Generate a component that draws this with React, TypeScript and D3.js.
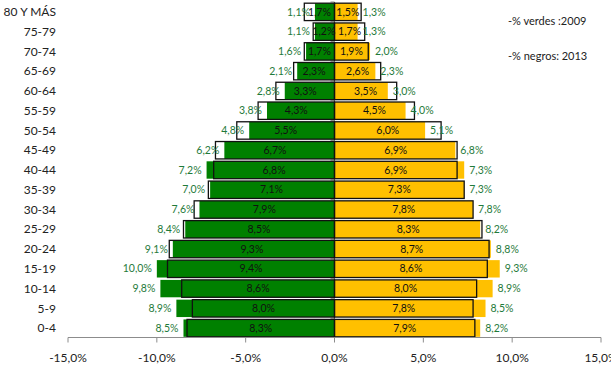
import React from 'react';
import * as d3 from 'd3';

// Age groups, bottom (youngest) to top (oldest)
const ageGroups = ['0-4', '5-9', '10-14', '15-19', '20-24', '25-29', '30-34', '35-39', '40-44', '45-49', '50-54', '55-59', '60-64', '65-69', '70-74', '75-79', '80 Y MÁS'];

// Left side (green) shares, %
const left2009 = [8.5, 8.9, 9.8, 10.0, 9.1, 8.4, 7.6, 7.0, 7.2, 6.2, 4.8, 3.8, 2.8, 2.1, 1.6, 1.1, 1.1];
const left2013 = [8.3, 8.0, 8.6, 9.4, 9.3, 8.5, 7.9, 7.1, 6.8, 6.7, 5.5, 4.3, 3.3, 2.3, 1.7, 1.2, 1.7];

// Right side (yellow) shares, %
const right2009 = [8.2, 8.5, 8.9, 9.3, 8.8, 8.2, 7.8, 7.3, 7.3, 6.8, 5.1, 4.0, 3.0, 2.3, 2.0, 1.3, 1.3];
const right2013 = [7.9, 7.8, 8.0, 8.6, 8.7, 8.3, 7.8, 7.3, 6.9, 6.9, 6.0, 4.5, 3.5, 2.6, 1.9, 1.7, 1.5];

const xTicks = [-15, -10, -5, 0, 5, 10, 15];
const legendLines = ['-% verdes :2009', '-% negros: 2013'];

const W = 611;
const H = 365;
const GREEN = '#008000';
const YELLOW = '#FFC000';
const LABEL_GREEN = '#1f7a3a';
const AXIS = '#8c8c8c';
const FONT = 'Lato, "Open Sans", sans-serif';

const fmt = (v: number) => d3.format('.1f')(Math.abs(v)).replace('.', ',') + '%';

export default function App() {
  const x = d3.scaleLinear().domain([-15, 15]).range([68, 601]);
  const y = d3
    .scaleBand<string>()
    .domain([...ageGroups].reverse())
    .range([2, 338])
    .paddingInner(0.12)
    .paddingOuter(0.06);
  const bw = y.bandwidth();
  const x0 = x(0);
  const axisY = 337.5;

  const rows = ageGroups.map((age, i) => ({
    age,
    l09: left2009[i],
    l13: left2013[i],
    r09: right2009[i],
    r13: right2013[i],
  }));

  return (
    <svg
      width={W}
      height={H}
      style={{ position: 'absolute', left: 0, top: 0, background: '#fff' }}
      fontFamily={FONT}
    >
      {/* vertical axis at zero */}
      <line x1={x0} x2={x0} y1={2} y2={axisY} stroke={AXIS} strokeWidth={1} />
      {y.domain().map((age) => (
        <line key={'vt' + age} x1={x0 - 4} x2={x0} y1={(y(age) as number) - (y.step() - bw) / 2} y2={(y(age) as number) - (y.step() - bw) / 2} stroke={AXIS} />
      ))}

      {rows.map((r) => {
        const yy = y(r.age) as number;
        const cy = yy + bw / 2;
        return (
          <g key={r.age}>
            {/* 2009 filled bars */}
            <rect x={x(-r.l09)} y={yy} width={x0 - x(-r.l09)} height={bw} fill={GREEN} />
            <rect x={x0} y={yy} width={x(r.r09) - x0} height={bw} fill={YELLOW} />
            {/* 2013 outlined bars */}
            <rect x={x(-r.l13)} y={yy} width={x0 - x(-r.l13)} height={bw} fill="none" stroke="#111" strokeWidth={1.3} />
            <rect x={x0} y={yy} width={x(r.r13) - x0} height={bw} fill="none" stroke="#111" strokeWidth={1.3} />
            {/* 2013 labels, centred */}
            <text x={(x0 + x(-r.l13)) / 2} y={cy} dy="0.35em" textAnchor="middle" fontSize={10.5} fill="#111">
              {fmt(r.l13)}
            </text>
            <text x={(x0 + x(r.r13)) / 2} y={cy} dy="0.35em" textAnchor="middle" fontSize={10.5} fill="#111">
              {fmt(r.r13)}
            </text>
            {/* 2009 labels, outside the bar end */}
            <text x={x(-r.l09) - 5} y={cy} dy="0.35em" textAnchor="end" fontSize={10.5} fill={LABEL_GREEN}>
              {fmt(r.l09)}
            </text>
            <text x={x(r.r09) + 5} y={cy} dy="0.35em" textAnchor="start" fontSize={10.5} fill={LABEL_GREEN}>
              {fmt(r.r09)}
            </text>
            {/* category label */}
            <text x={56} y={cy} dy="0.35em" textAnchor="end" fontSize={12} fill="#222">
              {r.age}
            </text>
          </g>
        );
      })}

      {/* horizontal axis */}
      <line x1={x(-15)} x2={x(15)} y1={axisY} y2={axisY} stroke={AXIS} strokeWidth={1} />
      {xTicks.map((t) => (
        <g key={'xt' + t}>
          <line x1={x(t)} x2={x(t)} y1={axisY} y2={axisY + 5} stroke={AXIS} />
          <text x={x(t)} y={361.5} textAnchor="middle" fontSize={12} fill="#222">
            {d3.format('.1f')(t).replace('.', ',').replace('−', '-') + '%'}
          </text>
        </g>
      ))}

      {/* legend note */}
      {legendLines.map((s, i) => (
        <text key={s} x={508} y={25 + i * 35} fontSize={11} fill="#222">
          {s}
        </text>
      ))}
    </svg>
  );
}
